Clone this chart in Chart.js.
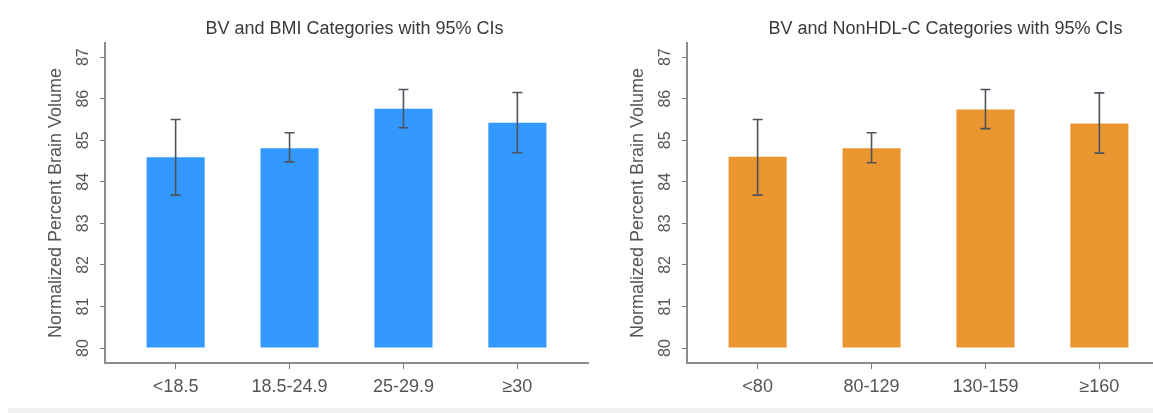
<!DOCTYPE html>
<html>
<head>
<meta charset="utf-8">
<script src="https://cdn.jsdelivr.net/npm/chart.js@4.4.1/dist/chart.umd.min.js"></script>
<style>
  html, body { margin: 0; padding: 0; background: #fff; overflow: hidden; width: 1153px; height: 413px; }
  .panel { position: absolute; top: 0; width: 600px; height: 413px; }
  #bmiPanel { left: 0; }
  #lipidPanel { left: 582px; }
  .strip { position: absolute; left: 8px; right: 0; top: 408px; height: 5px; background: #f1f1f1; }
</style>
</head>
<body>
<div class="panel" id="bmiPanel"><canvas id="bmiChart" width="600" height="413"></canvas></div>
<div class="panel" id="lipidPanel"><canvas id="lipidChart" width="600" height="413"></canvas></div>
<div class="strip"></div>
<script>
// Brain volume (normalized %) by BMI category, with 95% confidence limits
const bmiCategories = ['<18.5', '18.5-24.9', '25-29.9', '≥30'];
const bmiMeans      = [84.59, 84.81, 85.76, 85.42];
const bmiLower      = [83.68, 84.48, 85.30, 84.70];
const bmiUpper      = [85.50, 85.18, 86.22, 86.15];

// Brain volume (normalized %) by non-HDL cholesterol category, with 95% confidence limits
const lipidCategories = ['<80', '80-129', '130-159', '≥160'];
const lipidMeans      = [84.60, 84.81, 85.74, 85.40];
const lipidLower      = [83.68, 84.46, 85.28, 84.69];
const lipidUpper      = [85.50, 85.18, 86.22, 86.14];

const yTicks = [80, 81, 82, 83, 84, 85, 86, 87];
const barBase = 80;

const FONT = "'Liberation Sans', Arial, sans-serif";

// Whiskers with caps for the confidence interval of each bar
const errorBarPlugin = {
  id: 'errorBars',
  afterDatasetsDraw(chart, args, opts) {
    const { ctx, scales: { y } } = chart;
    const meta = chart.getDatasetMeta(0);
    ctx.save();
    ctx.strokeStyle = opts.color;
    ctx.lineWidth = opts.width;
    meta.data.forEach((bar, i) => {
      const px = bar.x;
      const top = y.getPixelForValue(opts.high[i]);
      const bot = y.getPixelForValue(opts.low[i]);
      ctx.beginPath();
      ctx.moveTo(px, top); ctx.lineTo(px, bot);
      ctx.moveTo(px - opts.cap, top); ctx.lineTo(px + opts.cap, top);
      ctx.moveTo(px - opts.cap, bot); ctx.lineTo(px + opts.cap, bot);
      ctx.stroke();
    });
    ctx.restore();
  }
};

// Panel heading above the plot region
const panelTitlePlugin = {
  id: 'panelTitle',
  afterDraw(chart, args, opts) {
    const { ctx, chartArea } = chart;
    ctx.save();
    ctx.font = opts.font;
    ctx.fillStyle = opts.color;
    ctx.textAlign = 'center';
    ctx.textBaseline = 'middle';
    ctx.fillText(opts.text, (chartArea.left + chartArea.right) / 2 + opts.shift, opts.y);
    ctx.restore();
  }
};

function makePanel(canvasId, categories, means, lower, upper, color, title, titleShift) {
  return new Chart(document.getElementById(canvasId), {
    type: 'bar',
    data: {
      datasets: [{
        data: means.map((v, i) => ({ x: i + 1, y: v })),
        base: barBase,
        backgroundColor: color,
        borderWidth: 0,
        barPercentage: 0.51,
        categoryPercentage: 1
      }]
    },
    plugins: [errorBarPlugin, panelTitlePlugin],
    options: {
      responsive: false,
      animation: false,
      layout: { padding: { left: 0, right: 12, top: 43, bottom: 0 } },
      plugins: {
        legend: { display: false },
        tooltip: { enabled: false },
        errorBars: { low: lower, high: upper, color: '#4d535b', width: 1.6, cap: 5 },
        panelTitle: { text: title, font: `18px ${FONT}`, color: '#3a3a3a', y: 29, shift: titleShift }
      },
      scales: {
        x: {
          type: 'linear',
          offset: false,
          min: 0.38,
          max: 4.62,
          afterBuildTicks: s => { s.ticks = categories.map((c, i) => ({ value: i + 1 })); },
          afterFit: s => { s.height = 50; },
          ticks: {
            callback: v => categories[v - 1],
            font: { family: FONT, size: 18 },
            color: '#555',
            padding: 7,
            maxRotation: 0,
            autoSkip: false
          },
          grid: { offset: false, drawOnChartArea: false, drawTicks: true, tickLength: 6, color: '#777', lineWidth: 1 },
          border: { display: true, color: '#8c8c8c', width: 2 }
        },
        y: {
          type: 'linear',
          min: 79.64,
          max: 87.34,
          afterBuildTicks: s => { s.ticks = yTicks.map(v => ({ value: v })); },
          afterFit: s => { s.width = 105; },
          ticks: {
            minRotation: 90,
            maxRotation: 90,
            crossAlign: 'center',
            padding: 8,
            autoSkip: false,
            font: { family: FONT, size: 16 },
            color: '#555'
          },
          title: {
            display: true,
            text: 'Normalized Percent Brain Volume',
            font: { family: FONT, size: 18 },
            color: '#555',
            padding: { top: 45, bottom: 0 }
          },
          grid: { drawOnChartArea: false, drawTicks: true, tickLength: 5, color: '#777', lineWidth: 1 },
          border: { display: true, color: '#8c8c8c', width: 2 }
        }
      }
    }
  });
}

makePanel('bmiChart', bmiCategories, bmiMeans, bmiLower, bmiUpper, '#3399ff',
  'BV and BMI Categories with 95% CIs', 8);
makePanel('lipidChart', lipidCategories, lipidMeans, lipidLower, lipidUpper, '#ea9630',
  'BV and NonHDL-C Categories with 95% CIs', 17);
</script>
</body>
</html>
